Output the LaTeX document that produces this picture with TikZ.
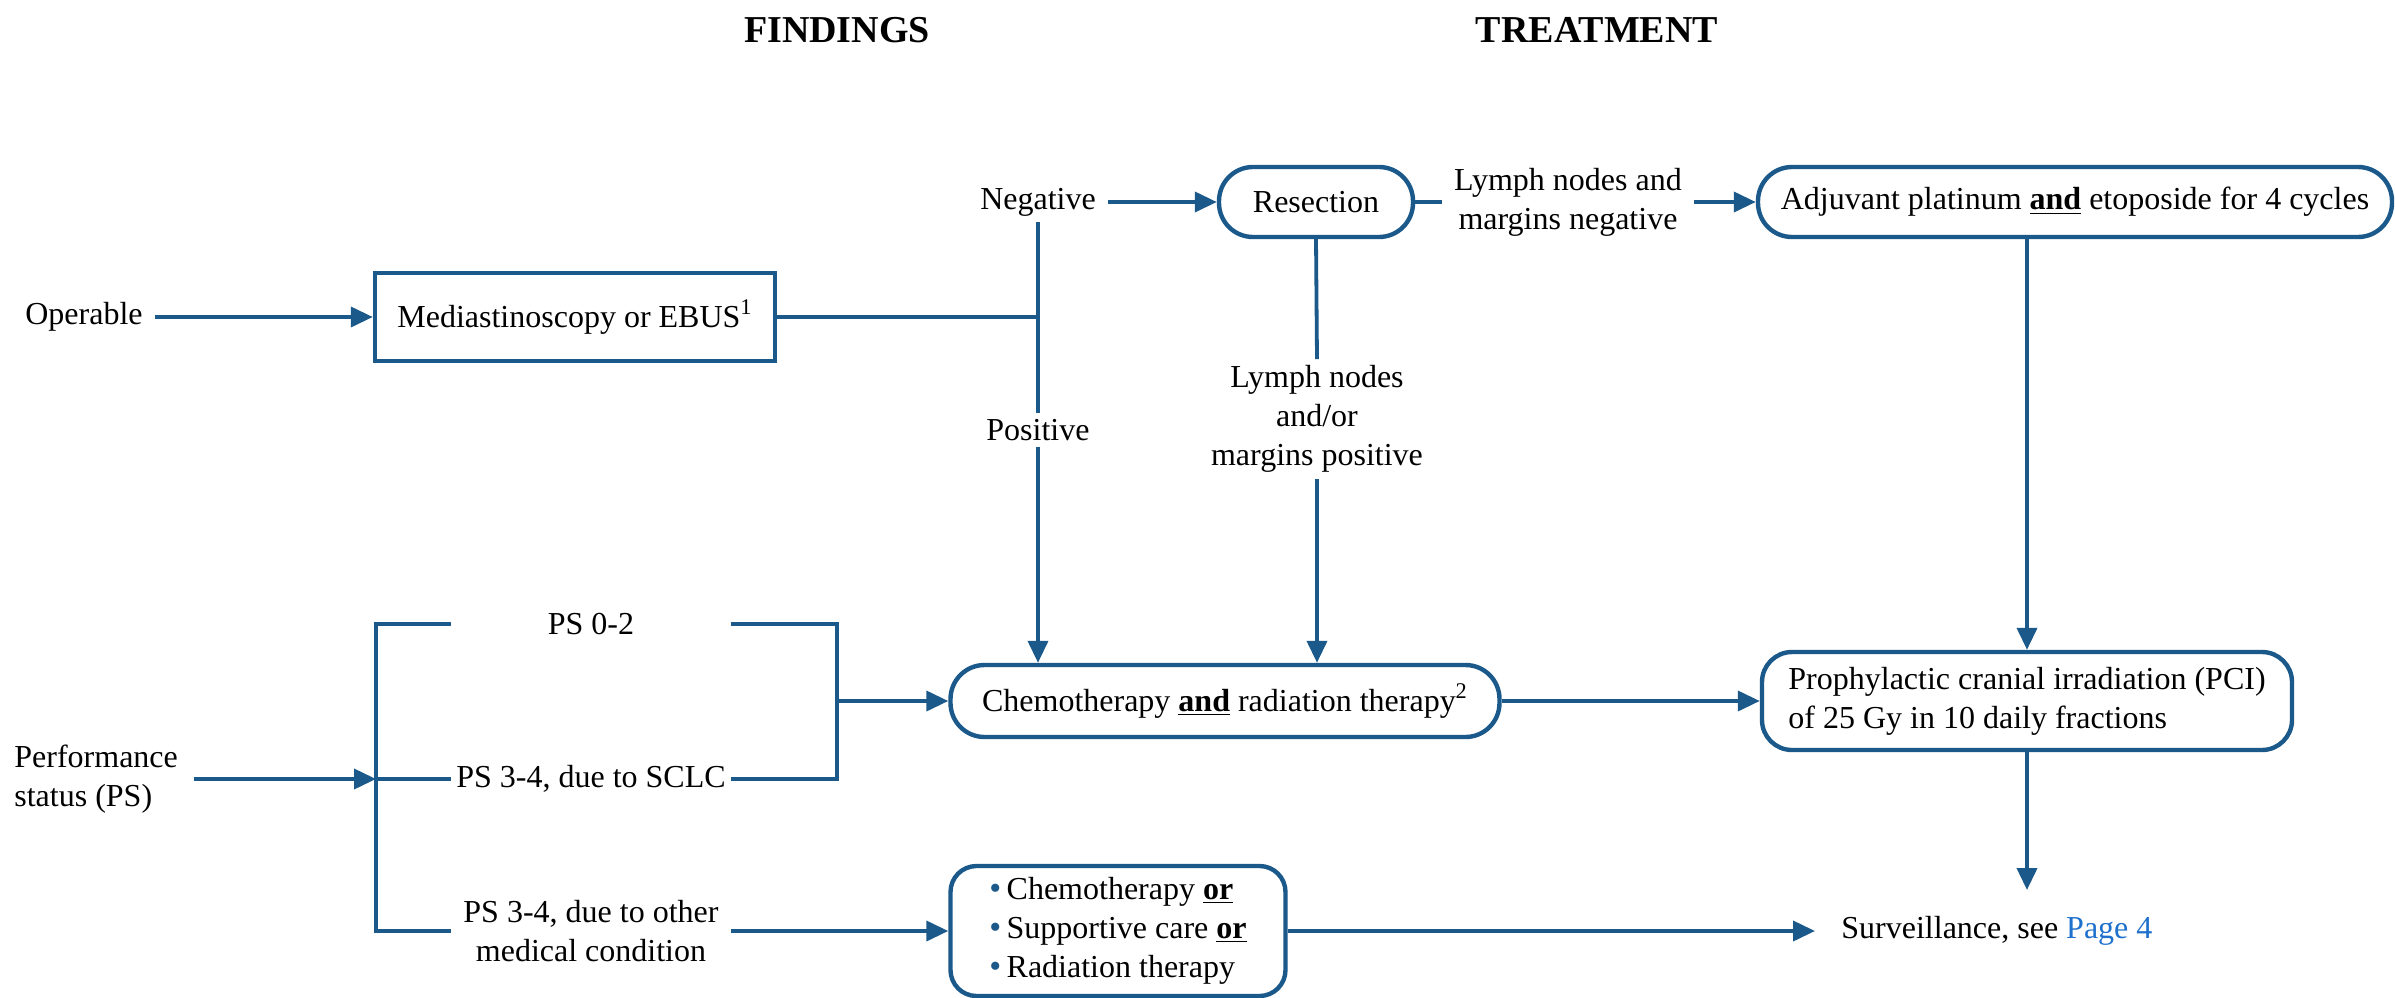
\documentclass[tikz,border=0pt]{standalone}
\usepackage{fontspec}
\setmainfont{Liberation Serif}
\usetikzlibrary{arrows.meta}
\definecolor{lc}{RGB}{27,89,139}
\definecolor{linkblue}{RGB}{30,112,204}
\newcommand{\ulb}[1]{\underline{\textbf{#1}}}
\newcommand{\bul}{{\color{lc}\fontsize{17}{17}\selectfont •}\,}

\begin{document}
\begin{tikzpicture}[x=0.5pt,y=-0.5pt,
  every node/.style={font=\fontsize{16}{19.5}\selectfont, text=black},
  lbl/.style={align=center, inner xsep=6pt, inner ysep=3pt},
  head/.style={font=\fontsize{19}{22}\selectfont\bfseries},
  sqbox/.style={draw=lc, line width=2.2pt, inner sep=0pt},
  pill/.style={draw=lc, line width=2.2pt, inner sep=0pt, rounded corners=17pt},
  psrow/.style={align=center, inner sep=0pt, minimum width=140pt},
  wire/.style={draw=lc, line width=1.9pt},
  arr/.style={wire, -{Triangle[length=11pt,width=10pt]}}
]
\useasboundingbox (0,0) rectangle (2395,997);

% column headings
\node[head] (hfind) at (837,30) {FINDINGS};
\node[head] (htreat) at (1597,30) {TREATMENT};

% operable branch
\node[lbl] (oper) at (84,317) {Operable};
\node[sqbox, minimum width=200pt, minimum height=44pt] (med) at (575,317) {Mediastinoscopy or EBUS\textsuperscript{1}};
\coordinate (jn) at (1038,317);
\node[lbl] (neg) at (1038,202) {Negative};
\node[lbl] (pos) at (1038,430) {Positive};
\node[pill, minimum width=97pt, minimum height=35pt] (res) at (1316,202) {Resection};
\node[lbl] (lnneg) at (1568,202) {Lymph nodes and\\margins negative};
\node[pill, minimum width=317pt, minimum height=35pt] (adj) at (2075,202) {Adjuvant platinum \ulb{and} etoposide for 4 cycles};
\node[lbl] (lnpos) at (1317,419) {Lymph nodes\\and/or\\margins positive};

% treatments
\node[pill, minimum width=274.5pt, minimum height=36pt] (chemo) at (1225,701) {Chemotherapy \ulb{and} radiation therapy\textsuperscript{2}};
\node[pill, minimum width=265pt, minimum height=49pt, rounded corners=15pt, align=left] (pci) at (2027,701) {Prophylactic cranial irradiation (PCI)\\of 25 Gy in 10 daily fractions};

% performance status branch
\node[lbl, align=left, anchor=west, inner xsep=0pt] (perf) at (14,779) {Performance\\status (PS)};
\coordinate (br) at (376,779);
\node[psrow] (ps02) at (591,624) {PS 0-2};
\node[psrow] (ps34) at (591,779) {PS 3-4, due to SCLC};
\node[psrow] (psoth) at (591,931) {PS 3-4, due to other\\medical condition};
\coordinate (mrg) at (837,701);
\node[pill, minimum width=167.5pt, minimum height=65pt, rounded corners=13pt, align=left] (opts) at (1118,931) {\bul Chemotherapy \ulb{or}\\\bul Supportive care \ulb{or}\\\bul Radiation therapy};
\node[lbl, anchor=west, inner xsep=13pt] (surv) at (1815,931) {Surveillance, see \textcolor{linkblue}{Page 4}};
\coordinate (survtip) at (2027,890);

% connectors
\draw[arr] (oper) -- (med);
\draw[wire] (med.east) -- (jn);
\draw[wire] (neg.south) -- (pos.north);
\draw[arr] (pos.south) -- (pos.south |- chemo.north);
\draw[arr] (neg) -- (res);
\draw[wire] (res) -- (lnneg);
\draw[arr] (lnneg) -- (adj);
\draw[wire] (res.south) -- (lnpos.north);
\draw[arr] (lnpos.south) -- (lnpos.south |- chemo.north);
\draw[arr] (pci.north |- adj.south) -- (pci.north);
\draw[arr] (chemo) -- (pci);
\draw[arr] (pci.south) -- (survtip);
\draw[arr, shorten <=8pt] (perf.east) -- (br);
\draw[wire] (ps02.west) -- (ps02.west -| br) -- (psoth.west -| br) -- (psoth.west);
\draw[wire] (ps34.west) -- (br);
\draw[wire] (ps02.east) -- (ps02.east -| mrg) -- (ps34.east -| mrg) -- (ps34.east);
\draw[arr] (mrg) -- (chemo.west);
\draw[arr] (psoth.east) -- (opts.west);
\draw[arr] (opts.east) -- (surv.west);
\end{tikzpicture}
\end{document}
